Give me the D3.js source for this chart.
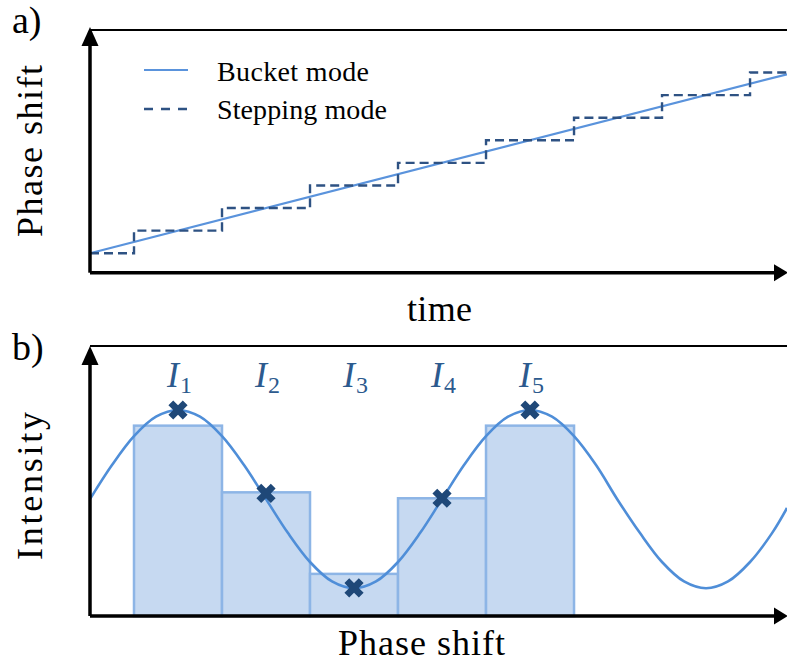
<!DOCTYPE html>
<html>
<head>
<meta charset="utf-8">
<script src="https://cdn.jsdelivr.net/npm/d3@7"></script>
<style>
  html, body { margin: 0; padding: 0; background: #fff; }
  svg { display: block; }
  text { font-family: "Liberation Serif", "DejaVu Serif", serif; fill: #000; }
</style>
</head>
<body>
<svg id="chart" width="787" height="664" font-family="Liberation Serif, DejaVu Serif, serif"></svg>
<script>
// ---------- Panel a data ----------
const timeDomain = [0, 7.92];
const phaseDomain = [-0.86, 9.88];
const stepEdges = [0, 0.5, 1.5, 2.5, 3.5, 4.5, 5.5, 6.5, 7.5, 7.92];
const stepLevels = [0, 1, 2, 3, 4, 5, 6, 7, 8, 8];
const bucketTime = [0, 7.92];
const bucketPhase = [0, 7.92];
const legendLabels = ["Bucket mode", "Stepping mode"];

// ---------- Panel b data ----------
const phaseShiftDomain = [0, 7.92];
const intensityDomain = [0, 1];
const curvePhase = [0, 0.25, 0.5, 0.75, 1, 1.25, 1.5, 1.75, 2, 2.25, 2.5, 2.75, 3, 3.25, 3.5, 3.75,
  4, 4.25, 4.5, 4.75, 5, 5.25, 5.5, 5.75, 6, 6.25, 6.5, 6.75, 7, 7.25, 7.5, 7.75, 7.92];
const curveIntensity = [0.433, 0.559, 0.666, 0.738, 0.763, 0.738, 0.666, 0.559, 0.433, 0.307, 0.2, 0.128, 0.103, 0.128, 0.2, 0.307,
  0.433, 0.559, 0.666, 0.738, 0.763, 0.738, 0.666, 0.559, 0.428, 0.307, 0.2, 0.128, 0.103, 0.128, 0.2, 0.307, 0.40];
const barEdges = [0.5, 1.5, 2.5, 3.5, 4.5, 5.5];
const barIntensity = [0.705, 0.458, 0.156, 0.436, 0.705];
const samplePhase = [1, 2, 3, 4, 5];
const sampleIntensity = [0.763, 0.454, 0.104, 0.436, 0.763];
const sampleLabels = ["1", "2", "3", "4", "5"];

const SERIF = "Liberation Serif, DejaVu Serif, serif";
const svg = d3.select("#chart");

function arrowUp(g, x, yTip) {
  g.append("path").attr("d", `M${x},${yTip} L${x - 8.5},${yTip + 19} L${x + 8.5},${yTip + 19} Z`).attr("fill", "#000");
}
function arrowRight(g, xTip, y) {
  g.append("path").attr("d", `M${xTip},${y} L${xTip - 14},${y - 8.5} L${xTip - 14},${y + 8.5} Z`).attr("fill", "#000");
}
function label(sel) { return sel.attr("font-family", SERIF); }

// ================= Panel a =================
const xa = d3.scaleLinear().domain(timeDomain).range([90, 787]);
const ya = d3.scaleLinear().domain(phaseDomain).range([272.7, 30]);
const ga = svg.append("g");

ga.append("line").attr("x1", 90).attr("x2", 787).attr("y1", 30).attr("y2", 30)
  .attr("stroke", "#000").attr("stroke-width", 2.2);

ga.append("path")
  .datum(bucketTime.map((t, i) => [t, bucketPhase[i]]))
  .attr("d", d3.line().x(d => xa(d[0])).y(d => ya(d[1])))
  .attr("fill", "none").attr("stroke", "#5A93DC").attr("stroke-width", 2.2);

ga.append("path")
  .datum(stepEdges.map((t, i) => [t, stepLevels[i]]))
  .attr("d", d3.line().curve(d3.curveStepAfter).x(d => xa(d[0])).y(d => ya(d[1])))
  .attr("fill", "none").attr("stroke", "#2E5283").attr("stroke-width", 2.4)
  .attr("stroke-dasharray", "9,5");

const axA_x = ga.append("g").attr("transform", `translate(0,${ya(phaseDomain[0])})`)
  .call(d3.axisBottom(xa).ticks(0).tickSizeOuter(0));
const axA_y = ga.append("g").attr("transform", `translate(${xa(timeDomain[0])},0)`)
  .call(d3.axisLeft(ya).ticks(0).tickSizeOuter(0));
[axA_x, axA_y].forEach(a => a.select(".domain").attr("stroke", "#000").attr("stroke-width", 3.5));
axA_x.select(".domain").attr("d", `M90,0H776`);
axA_y.select(".domain").attr("d", `M0,272.7V44`);
arrowUp(ga, 90, 27);
arrowRight(ga, 788, ya(phaseDomain[0]));

const legY = [70, 109];
ga.append("line").attr("x1", 144).attr("x2", 188).attr("y1", legY[0]).attr("y2", legY[0])
  .attr("stroke", "#5A93DC").attr("stroke-width", 2.2);
ga.append("line").attr("x1", 144).attr("x2", 188).attr("y1", legY[1]).attr("y2", legY[1])
  .attr("stroke", "#2E5283").attr("stroke-width", 2.4).attr("stroke-dasharray", "9,8");
label(ga.append("text")).attr("x", 217).attr("y", 81).attr("font-size", 28)
  .attr("textLength", 152).attr("lengthAdjust", "spacing").text(legendLabels[0]);
label(ga.append("text")).attr("x", 217).attr("y", 119).attr("font-size", 28)
  .attr("textLength", 170).attr("lengthAdjust", "spacing").text(legendLabels[1]);

label(svg.append("text")).attr("x", 12).attr("y", 33).attr("font-size", 38).text("a)");
label(svg.append("text")).attr("x", 407).attr("y", 321).attr("font-size", 36)
  .attr("textLength", 65).attr("lengthAdjust", "spacing").text("time");
label(svg.append("text")).attr("transform", "translate(42,151) rotate(-90)").attr("text-anchor", "middle")
  .attr("font-size", 36).attr("textLength", 172).attr("lengthAdjust", "spacing").text("Phase shift");

// ================= Panel b =================
const xb = d3.scaleLinear().domain(phaseShiftDomain).range([90, 787]);
const yb = d3.scaleLinear().domain(intensityDomain).range([616, 346]);
const gb = svg.append("g");

gb.append("line").attr("x1", 90).attr("x2", 787).attr("y1", 346).attr("y2", 346)
  .attr("stroke", "#000").attr("stroke-width", 2.2);

gb.selectAll("rect.bar").data(barIntensity).join("rect").attr("class", "bar")
  .attr("x", (d, i) => xb(barEdges[i]))
  .attr("width", (d, i) => xb(barEdges[i + 1]) - xb(barEdges[i]))
  .attr("y", d => yb(d))
  .attr("height", d => yb(0) - yb(d))
  .attr("fill", "#C6D9F1").attr("stroke", "#8DB5E6").attr("stroke-width", 2.5);

gb.append("clipPath").attr("id", "clipb").append("rect")
  .attr("x", 90).attr("y", 346).attr("width", 697).attr("height", 270);
gb.append("path")
  .datum(curvePhase.map((p, i) => [p, curveIntensity[i]]))
  .attr("clip-path", "url(#clipb)")
  .attr("d", d3.line().curve(d3.curveCatmullRom.alpha(0.5)).x(d => xb(d[0])).y(d => yb(d[1])))
  .attr("fill", "none").attr("stroke", "#4F8ED8").attr("stroke-width", 2.6);

gb.selectAll("path.mk").data(sampleIntensity).join("path").attr("class", "mk")
  .attr("d", d3.symbol().type(d3.symbolCross).size(230))
  .attr("transform", (d, i) => `translate(${xb(samplePhase[i])},${yb(d)}) rotate(45)`)
  .attr("fill", "#1F4878");

const lab = gb.selectAll("text.il").data(sampleLabels).join("text").attr("class", "il")
  .attr("font-family", SERIF)
  .attr("x", (d, i) => xb(samplePhase[i]) - 11).attr("y", 386.7)
  .style("fill", "#2C5A8E");
lab.append("tspan").attr("font-size", 36).attr("font-style", "italic").text("I");
lab.append("tspan").attr("font-size", 24).attr("dx", 1).attr("dy", 6).text(d => d);

const axB_x = gb.append("g").attr("transform", `translate(0,616)`)
  .call(d3.axisBottom(xb).ticks(0).tickSizeOuter(0));
const axB_y = gb.append("g").attr("transform", `translate(90,0)`)
  .call(d3.axisLeft(yb).ticks(0).tickSizeOuter(0));
[axB_x, axB_y].forEach(a => a.select(".domain").attr("stroke", "#000").attr("stroke-width", 3.5));
axB_x.select(".domain").attr("d", `M90,0H776`);
axB_y.select(".domain").attr("d", `M0,616V362`);
arrowUp(gb, 90, 346);
arrowRight(gb, 788, 616);

label(svg.append("text")).attr("x", 12).attr("y", 360).attr("font-size", 38).text("b)");
label(svg.append("text")).attr("x", 338).attr("y", 654.7).attr("font-size", 36)
  .attr("textLength", 167).attr("lengthAdjust", "spacing").text("Phase shift");
label(svg.append("text")).attr("transform", "translate(42,486) rotate(-90)").attr("text-anchor", "middle")
  .attr("font-size", 36).attr("textLength", 148).attr("lengthAdjust", "spacing").text("Intensity");
</script>
</body>
</html>
